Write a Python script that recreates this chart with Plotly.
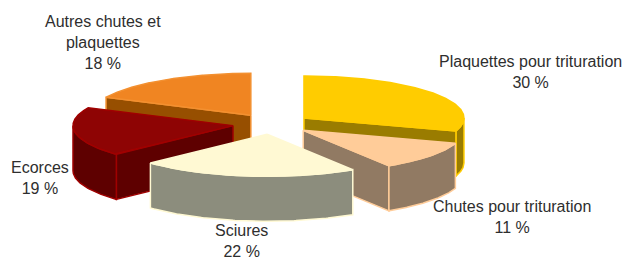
import numpy as np
import plotly.graph_objects as go

# ---- data ----
categories = ["Plaquettes pour trituration", "Chutes pour trituration", "Sciures",
              "Ecorces", "Autres chutes et<br>plaquettes"]
values = [30, 11, 22, 19, 18]

# ---- styles ----
top_colors = ["#FFCC00", "#FFCC99", "#FFF9D3", "#8E0404", "#F08522"]
side_colors = ["#9A7C00", "#917A63", "#8C8D7D", "#5E0000", "#974F00"]
edge_colors = ["#FFCC00", "#FFCC99", "#FFF9D3", "#A00000", "#F39030"]
label_pos = [(530, 72), (512, 217), (241, 241), (40, 178), (103, 42)]
draw_order = [4, 0, 3, 1, 2]

CX, CY = 272, 124      # pie centre in pixels
RX, RY = 160, 42       # ellipse radii
H = 45                 # depth
EXPL = 39.5            # explosion distance

total = float(sum(values))
angles = []
start = np.pi / 2
for v in values:
    a1 = start - 2 * np.pi * v / total
    angles.append((start, a1))
    start = a1

fig = go.Figure()


def add_poly(xs, ys, fill, edge):
    xs = list(xs) + [xs[0]]
    ys = list(ys) + [ys[0]]
    fig.add_trace(go.Scatter(x=xs, y=ys, mode="lines", fill="toself",
                             fillcolor=fill, line=dict(color=edge, width=1.5),
                             hoverinfo="skip", showlegend=False))


def front_intervals(lo, hi):
    out = []
    for k in range(-3, 4):
        a, b = -np.pi + 2 * np.pi * k, 2 * np.pi * k
        s, e = max(lo, a), min(hi, b)
        if e - s > 1e-6:
            out.append((s, e))
    return out


for i in draw_order:
    a0, a1 = angles[i]
    mid = (a0 + a1) / 2
    cx = CX + EXPL * np.cos(mid)
    cy = CY - EXPL * (RY / RX) * np.sin(mid)

    def rim(th, z=0.0):
        return cx + RX * np.cos(th), cy - RY * np.sin(th) + z

    # radial faces
    for ang, nrm in ((a0, a0 + np.pi / 2), (a1, a1 - np.pi / 2)):
        if np.sin(nrm) < -1e-6:
            x1, y1 = rim(ang)
            x2, y2 = rim(ang, H)
            add_poly([cx, x1, x2, cx], [cy, y1, y2, cy + H], side_colors[i], edge_colors[i])

    # outer curved face (front part only)
    for s, e in front_intervals(a1, a0):
        th = np.linspace(s, e, 120)
        xt, yt = rim(th)
        xb, yb = rim(th[::-1], H)
        add_poly(np.concatenate([xt, xb]), np.concatenate([yt, yb]),
                 side_colors[i], edge_colors[i])

    # top face
    th = np.linspace(a0, a1, 200)
    xt, yt = rim(th)
    add_poly(np.concatenate([[cx], xt]), np.concatenate([[cy], yt]),
             top_colors[i], edge_colors[i])

for i, name in enumerate(categories):
    x, y = label_pos[i]
    fig.add_annotation(x=x, y=y, xref="x", yref="y",
                       text=f"{name}<br>{values[i]} %", showarrow=False,
                       borderpad=0,
                       font=dict(family="Liberation Sans, Arial, sans-serif",
                                 size=16, color="#2E2E2E"),
                       align="center")

fig.update_layout(
    width=624, height=259,
    margin=dict(l=0, r=0, t=0, b=0),
    paper_bgcolor="white", plot_bgcolor="white",
    xaxis=dict(range=[0, 624], visible=False, fixedrange=True),
    yaxis=dict(range=[259, 0], visible=False, fixedrange=True),
    showlegend=False,
)

fig.write_html("out.html", config={"displayModeBar": False},
               post_script="document.body.style.margin='0';document.body.style.overflow='hidden';")
